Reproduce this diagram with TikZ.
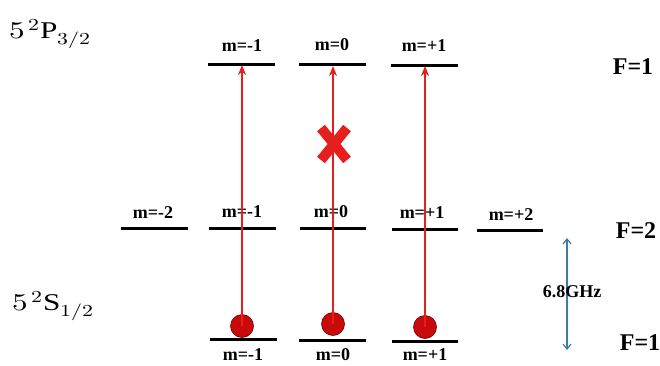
\documentclass[tikz,border=0pt]{standalone}
\usepackage{fontspec}
\setmainfont{Liberation Serif}
\usepackage{unicode-math}
\setmathfont{Latin Modern Math}
\usetikzlibrary{arrows.meta}
\definecolor{lvl}{RGB}{0,0,0}
\definecolor{beam}{RGB}{230,30,30}
\definecolor{atom}{RGB}{200,10,10}
\definecolor{atomedge}{RGB}{110,0,0}
\definecolor{gap}{RGB}{60,125,165}
\tikzset{
  level/.style={line width=3pt, draw=lvl},
  mlab/.style={font=\bfseries\fontsize{18}{20}\selectfont, inner sep=0pt},
  flab/.style={font=\bfseries\fontsize{24}{26}\selectfont, inner sep=0pt},
  statelab/.style={font=\fontsize{24}{28}\selectfont, inner sep=0pt},
  beamarrow/.style={draw=beam, line width=1.8pt, -{Stealth[length=10pt,width=8pt]}},
  atomball/.style={circle, fill=atom, draw=atomedge, line width=0.6pt, minimum size=23pt, inner sep=0pt},
  gaparrow/.style={draw=gap, line width=1.2pt, {Straight Barb[length=5pt,width=8pt]}-{Straight Barb[length=5pt,width=8pt]}},
}
\begin{document}
\begin{tikzpicture}[x=1pt,y=-1pt]
\useasboundingbox (0,0) rectangle (660,365);
% state labels
\node[statelab] (P) at (50,34) {\scalebox{1.3}[1]{$5^{\,2}\mathrm{P}_{3/2}$}};
\node[statelab] (S) at (53,306) {\scalebox{1.3}[1]{$5^{\,2}\mathrm{S}_{1/2}$}};
% top F=1 levels
\coordinate (tA1) at (208,64); \coordinate (tA2) at (275,64);
\coordinate (tB1) at (299,64); \coordinate (tB2) at (366,64);
\coordinate (tC1) at (391,65); \coordinate (tC2) at (458,65);
\draw[level] (tA1) -- (tA2);
\draw[level] (tB1) -- (tB2);
\draw[level] (tC1) -- (tC2);
\node[mlab] (tla) at (242,46) {m=-1};
\node[mlab] (tlb) at (332,45) {m=0};
\node[mlab] (tlc) at (424,46) {m=+1};
% F=2 levels
\coordinate (mE1) at (121,228); \coordinate (mE2) at (188,228);
\coordinate (mA1) at (209,228); \coordinate (mA2) at (276,228);
\coordinate (mB1) at (300,228); \coordinate (mB2) at (366,228);
\coordinate (mC1) at (392,229); \coordinate (mC2) at (458,229);
\coordinate (mD1) at (477,230); \coordinate (mD2) at (543,230);
\draw[level] (mE1) -- (mE2);
\draw[level] (mA1) -- (mA2);
\draw[level] (mB1) -- (mB2);
\draw[level] (mC1) -- (mC2);
\draw[level] (mD1) -- (mD2);
\node[mlab] (mle) at (153,213) {m=-2};
\node[mlab] (mla) at (242,212) {m=-1};
\node[mlab] (mlb) at (331,212) {m=0};
\node[mlab] (mlc) at (422,213) {m=+1};
\node[mlab] (mld) at (511,215) {m=+2};
% bottom F=1 levels
\coordinate (bA1) at (210,339); \coordinate (bA2) at (277,339);
\coordinate (bB1) at (299,340); \coordinate (bB2) at (366,340);
\coordinate (bC1) at (392,341); \coordinate (bC2) at (458,341);
\draw[level] (bA1) -- (bA2);
\draw[level] (bB1) -- (bB2);
\draw[level] (bC1) -- (bC2);
\node[mlab] (bla) at (243,355) {m=-1};
\node[mlab] (blb) at (333,355) {m=0};
\node[mlab] (blc) at (425,355) {m=+1};
% atoms
\node[atomball] (aA) at (242,326) {};
\node[atomball] (aB) at (333,324) {};
\node[atomball] (aC) at (425,327) {};
% beams
\coordinate (eA) at (242,65);
\coordinate (eB) at (333,66);
\coordinate (eC) at (425,66);
\draw[beamarrow] (aA.center) -- (eA);
\draw[beamarrow] (aB.center) -- (eB);
\draw[beamarrow] (aC.center) -- (eC);
% cross
\coordinate (X) at (334,144);
\draw[draw=beam, line width=10pt] ([shift={(-13,-16)}]X) -- ([shift={(13,16)}]X);
\draw[draw=beam, line width=10pt] ([shift={(-13,16)}]X) -- ([shift={(13,-16)}]X);
% F labels
\node[flab] (F1t) at (633,67) {F=1};
\node[flab] (F2) at (636,231) {F=2};
\node[flab] (F1b) at (640,343) {F=1};
% gap arrow
\coordinate (g1) at (567,238);
\coordinate (g2) at (567,350);
\draw[gaparrow] (g1) -- (g2);
\node[font=\bfseries\fontsize{18}{20}\selectfont, inner sep=0pt] (GHz) at (572,292) {6.8GHz};
\end{tikzpicture}
\end{document}
